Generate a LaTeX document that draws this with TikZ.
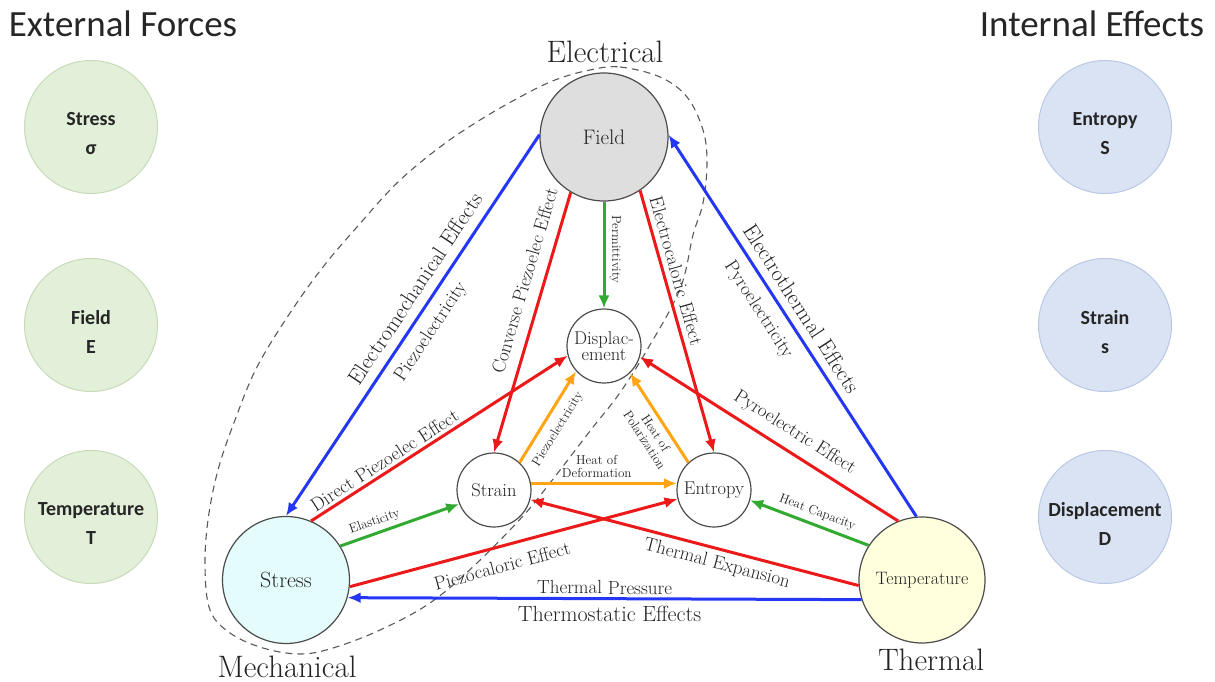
\documentclass[tikz,border=0pt]{standalone}
\usepackage{fontspec}
\newfontfamily\carlito{Carlito}
\usetikzlibrary{arrows.meta}
\definecolor{cblue}{RGB}{35,55,245}
\definecolor{cred}{RGB}{235,25,25}
\definecolor{cgreen}{RGB}{50,170,50}
\definecolor{corange}{RGB}{255,165,20}
\definecolor{lgreen}{RGB}{226,239,217}
\definecolor{lgreenb}{RGB}{200,218,185}
\definecolor{lblue}{RGB}{218,227,243}
\definecolor{lblueb}{RGB}{185,200,228}
\definecolor{fieldfill}{RGB}{222,222,222}
\definecolor{stressfill}{RGB}{228,252,252}
\definecolor{tempfill}{RGB}{255,255,222}
\definecolor{txt}{RGB}{35,35,35}
\newcommand\fsz[2]{\fontsize{#1}{#2}\selectfont}
\begin{document}
\begin{tikzpicture}[x=1pt,y=-1pt,
  bigc/.style={circle, draw=black!70, line width=1.2pt, inner sep=0pt, text=txt},
  smallc/.style={circle, draw=black!70, line width=1.2pt, minimum size=74pt, inner sep=0pt, fill=white, font=\fsz{18.5}{14}, align=center, text=txt},
  sidec/.style={circle, minimum size=133pt, line width=1pt, inner sep=0pt},
  sidetext/.style={align=center, inner sep=0pt, font=\carlito\bfseries\fsz{20}{29}, text=black!85},
  conn/.style={line width=3pt, -{Latex[length=13pt,width=11pt]}},
  lab/.style={font=\fsz{19}{22}, sloped, inner sep=2pt, text=txt},
  biglab/.style={font=\fsz{22}{25}, sloped, inner sep=2pt, text=txt},
  tinylab/.style={font=\fsz{13}{13}, sloped, align=center, inner sep=2pt, text=txt},
  grouplab/.style={font=\fsz{31}{34}, text=txt},
  title/.style={font=\carlito\fsz{37}{40}, text=black!85}
]
\useasboundingbox (0,0) rectangle (1215,682);

% titles
\node[title, anchor=base] (tl) at (123,37) {External Forces};
\node[title, anchor=base] (tr) at (1092,37) {Internal Effects};

% side circles
\node[sidec, fill=lgreen, draw=lgreenb] (ls) at (91,127) {};
\node[sidec, fill=lgreen, draw=lgreenb] (lf) at (91,325) {};
\node[sidec, fill=lgreen, draw=lgreenb] (lt) at (91,517) {};
\node[sidec, fill=lblue, draw=lblueb] (rs) at (1105,127) {};
\node[sidec, fill=lblue, draw=lblueb] (rst) at (1105,325) {};
\node[sidec, fill=lblue, draw=lblueb] (rd) at (1105,517) {};
\node[sidetext] (lst) at (91,134) {Stress\\σ};
\node[sidetext] (lft) at (91,332) {Field\\E};
\node[sidetext] (ltt) at (91,524) {Temperature\\T};
\node[sidetext] (rst1) at (1105,134) {Entropy\\S};
\node[sidetext] (rst2) at (1105,332) {Strain\\s};
\node[sidetext] (rdt) at (1105,524) {Displacement\\D};

% dashed group outline
\draw[dashed, dash pattern=on 7pt off 5pt, line width=1.1pt, black!65]
  plot[smooth cycle, tension=0.6] coordinates {
  (590,70) (620,67) (660,77) (687,97) (703,130) (707,163) (703,203) (693,235)
  (680,289) (647,350) (619,394) (590,431) (550,483) (523,516) (476,564) (430,603)
  (380,630) (333,648) (300,654) (263,648) (230,633) (210,610) (205,567) (208,520)
  (218,470) (235,420) (257,367) (290,313) (323,267) (357,227) (397,183) (440,147)
  (480,120) (520,97) (555,80)};

% main circles
\node[bigc, fill=fieldfill, minimum size=128pt, font=\fsz{21}{24}] (field) at (604,137) {Field};
\node[bigc, fill=stressfill, minimum size=127pt, font=\fsz{22}{24}] (stress) at (286,580) {Stress};
\node[bigc, fill=tempfill, minimum size=126pt, font=\fsz{18}{20}] (temp) at (922,580) {Temperature};
\node[smallc] (disp) at (604,346) {Displac-\\ement};
\node[smallc] (strain) at (494,490) {Strain};
\node[smallc] (entropy) at (714,490) {Entropy};

% group labels
\node[grouplab] (gel) at (605,52) {Electrical};
\node[grouplab] (gme) at (287,667) {Mechanical};
\node[grouplab] (gth) at (931,660) {Thermal};

% blue connectors
\draw[conn, cblue] (field.178) -- node[biglab, above=7pt, pos=0.43] {Electromechanical Effects}
  node[lab, below=7pt, pos=0.49] {Piezoelectricity} (stress.90);
\draw[conn, cblue] (temp.95) -- node[biglab, above=6pt, pos=0.52] {Electrothermal Effects}
  node[lab, below=8pt, pos=0.57] {Pyroelectricity} (field.2);
\draw[conn, cblue] (temp.198) -- node[lab, above=1pt, pos=0.5] {Thermal Pressure}
  node[biglab, below=4pt, pos=0.49] {Thermostatic Effects} (stress.-16);

% red connectors
\draw[conn, cred] (field.-121) -- node[lab, above=9pt, pos=0.36] {Converse Piezoelec Effect} (strain.90);
\draw[conn, cred] (field.-56) -- node[lab, above=3pt, pos=0.32] {Electrocaloric Effect} (entropy.90);
\draw[conn, cred] (stress.67) -- node[lab, above=1pt, pos=0.31] {Direct Piezoelec Effect} (disp.195);
\draw[conn, cred] (temp.112) -- node[lab, above=7pt, pos=0.44] {Pyroelectric Effect} (disp.-17);
\draw[conn, cred] (stress.-6) -- node[lab, below=9pt, pos=0.45] {Piezocaloric Effect} (entropy.194);
\draw[conn, cred] (temp.185) -- node[lab, below=3pt, pos=0.42] {Thermal Expansion} (strain.-15);

% green connectors
\draw[conn, cgreen] (field.-90) -- node[tinylab, above=2pt, pos=0.45] {Permittivity} (disp.90);
\draw[conn, cgreen] (stress.32) -- node[tinylab, above=2pt, pos=0.32] {Elasticity} (strain.202);
\draw[conn, cgreen] (temp.147) -- node[tinylab, above=3pt, pos=0.47] {Heat Capacity} (entropy.-16);

% orange connectors
\draw[conn, corange] (strain.47) -- node[tinylab, below=6pt, pos=0.45] {Piezoelectricity} (disp.222);
\draw[conn, corange] (entropy.133) -- node[tinylab, below=3pt, pos=0.4] {Heat of\\Polarization} (disp.-46);
\draw[conn, corange] (strain.10) -- node[tinylab, above=2pt, pos=0.45] {Heat of\\Deformation} (entropy.170);
\end{tikzpicture}
\end{document}
